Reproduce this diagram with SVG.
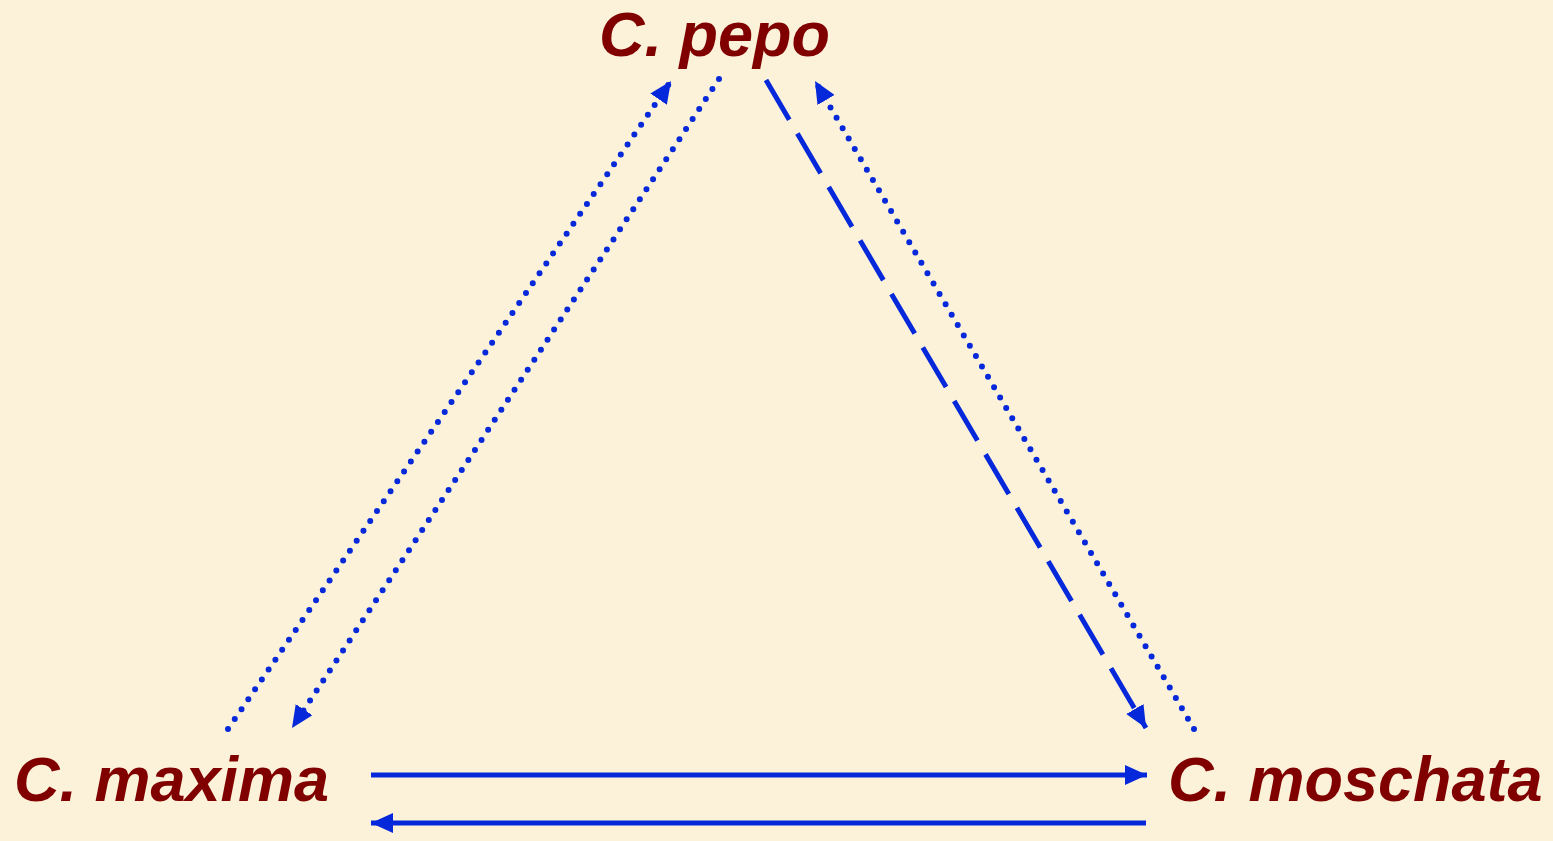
<svg xmlns="http://www.w3.org/2000/svg" width="1553" height="841" viewBox="0 0 1553 841">
<style>
.lbl{font-family:"Liberation Sans",Arial,sans-serif;font-weight:bold;font-style:italic;font-size:63px;fill:#800000}
.c{fill:none;stroke:#0528DA;stroke-width:5}
.dot{stroke-dasharray:0 12;stroke-linecap:round;stroke-width:6}
.dash{stroke-dasharray:46 16;stroke-width:5}
</style>
<defs>
<marker id="ah" markerUnits="userSpaceOnUse" viewBox="0 0 22 20" markerWidth="22" markerHeight="20" refX="22" refY="10" orient="auto">
<path d="M0,0 L22,10 L0,20 z" fill="#0528DA"/>
</marker>
</defs>
<rect width="1553" height="841" fill="#FCF2D9"/>
<g id="pepo"><text class="lbl" x="599" y="56">C. pepo</text></g>
<g id="maxima"><text class="lbl" x="14" y="801">C. maxima</text></g>
<g id="moschata"><text class="lbl" x="1168" y="801">C. moschata</text></g>
<g id="connectors">
<path class="c dot" d="M228,729 L671,81" marker-end="url(#ah)"/>
<path class="c dot" d="M719,79 L292,728" marker-end="url(#ah)"/>
<path class="c dash" d="M766,80 L1146,728" marker-end="url(#ah)"/>
<path class="c dot" d="M1194,729 L815,81" marker-end="url(#ah)"/>
<path class="c" d="M371,775 L1147,775" marker-end="url(#ah)"/>
<path class="c" d="M1146,823 L371,823" marker-end="url(#ah)"/>
</g>
</svg>
